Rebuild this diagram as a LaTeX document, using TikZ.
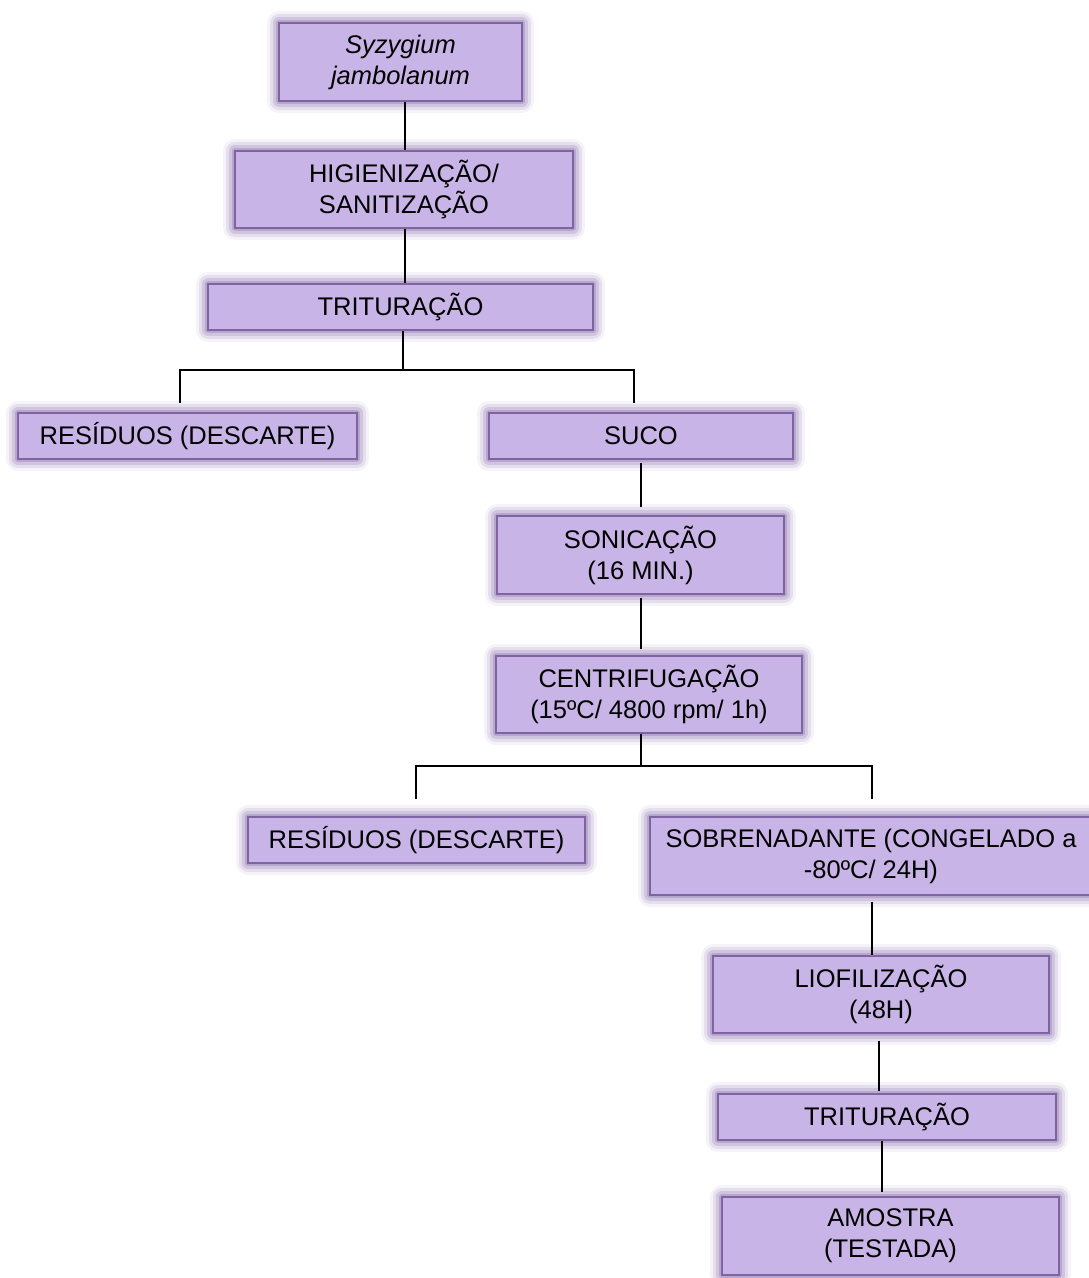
\documentclass[tikz,border=0pt]{standalone}
\usepackage{fontspec}
\setmainfont{Liberation Sans}
\begin{document}
\begin{tikzpicture}[x=1pt,y=-1pt]
\definecolor{boxfill}{RGB}{200,180,230}
\definecolor{boxborder}{RGB}{128,100,162}
\definecolor{glowc}{RGB}{112,80,160}
\tikzset{
  flowbox/.style={
    preaction={draw=glowc, line width=24pt, opacity=0.07, line join=round},
    preaction={draw=glowc, line width=18pt, opacity=0.12, line join=round},
    preaction={draw=glowc, line width=12pt, opacity=0.18, line join=round},
    preaction={draw=glowc, line width=6pt, opacity=0.25, line join=round},
    fill=boxfill, draw=boxborder, line width=1.3pt,
    rectangle, inner sep=0pt, align=center,
    font=\fontsize{25.5}{31}\selectfont, text=black},
  conn/.style={draw=black, line width=1.3pt}
}
\useasboundingbox (0,0) rectangle (1089,1278);

\node[flowbox, minimum width=243pt, minimum height=78pt] (syz) at (400.5,62) {\itshape Syzygium\\\itshape jambolanum};
\node[flowbox, minimum width=338pt, minimum height=77pt] (hig) at (404,189.5) {HIGIENIZAÇÃO/\\SANITIZAÇÃO};
\node[flowbox, minimum width=385pt, minimum height=46pt] (trit1) at (400.5,307) {TRITURAÇÃO};
\node[flowbox, minimum width=339pt, minimum height=46pt] (res1) at (187.5,436) {RESÍDUOS (DESCARTE)};
\node[flowbox, minimum width=304pt, minimum height=46pt] (suco) at (641,436) {SUCO};
\node[flowbox, minimum width=287pt, minimum height=78pt] (son) at (640.5,555) {SONICAÇÃO\\(16 MIN.)};
\node[flowbox, minimum width=306pt, minimum height=77pt] (cen) at (649,694.5) {CENTRIFUGAÇÃO\\(15ºC/ 4800 rpm/ 1h)};
\node[flowbox, minimum width=337pt, minimum height=46pt] (res2) at (416.5,840) {RESÍDUOS (DESCARTE)};
\node[flowbox, minimum width=442pt, minimum height=78pt] (sob) at (871,856) {SOBRENADANTE (CONGELADO a\\-80ºC/ 24H)};
\node[flowbox, minimum width=336pt, minimum height=77pt] (liof) at (881,994.5) {LIOFILIZAÇÃO\\(48H)};
\node[flowbox, minimum width=338pt, minimum height=46pt] (trit2) at (887,1117) {TRITURAÇÃO};
\node[flowbox, minimum width=337pt, minimum height=78pt] (amo) at (890.5,1236) {AMOSTRA\\(TESTADA)};

% branch coordinates
\coordinate (b1) at (403,370);
\coordinate (b1l) at (180,370);
\coordinate (b1r) at (634,370);
\coordinate (e1l) at (180,403);
\coordinate (e1r) at (634,403);
\coordinate (b2) at (641,766);
\coordinate (b2l) at (416,766);
\coordinate (b2r) at (872,766);
\coordinate (e2l) at (416,799);
\coordinate (e2r) at (872,799);

\draw[conn] (syz.south -| 405,0) -- (hig.north -| 405,0);
\draw[conn] (hig.south -| 405,0) -- (trit1.north -| 405,0);
\draw[conn] (trit1.south -| b1) -- (b1);
\draw[conn] (e1l) -- (b1l) -- (b1r) -- (e1r);
\draw[conn] ([yshift=-3pt]suco.south) -- ([yshift=8pt]son.north -| suco.south);
\draw[conn] ([yshift=-3pt]son.south -| 641,0) -- ([yshift=6pt]cen.north -| 641,0);
\draw[conn] (cen.south -| b2) -- (b2);
\draw[conn] (e2l) -- (b2l) -- (b2r) -- (e2r);
\draw[conn] ([yshift=-6pt]sob.south -| 872,0) -- (liof.north -| 872,0);
\draw[conn] ([yshift=-7pt]liof.south -| 879,0) -- ([yshift=2pt]trit2.north -| 879,0);
\draw[conn] (trit2.south -| 882,0) -- ([yshift=4pt]amo.north -| 882,0);
\end{tikzpicture}
\end{document}
